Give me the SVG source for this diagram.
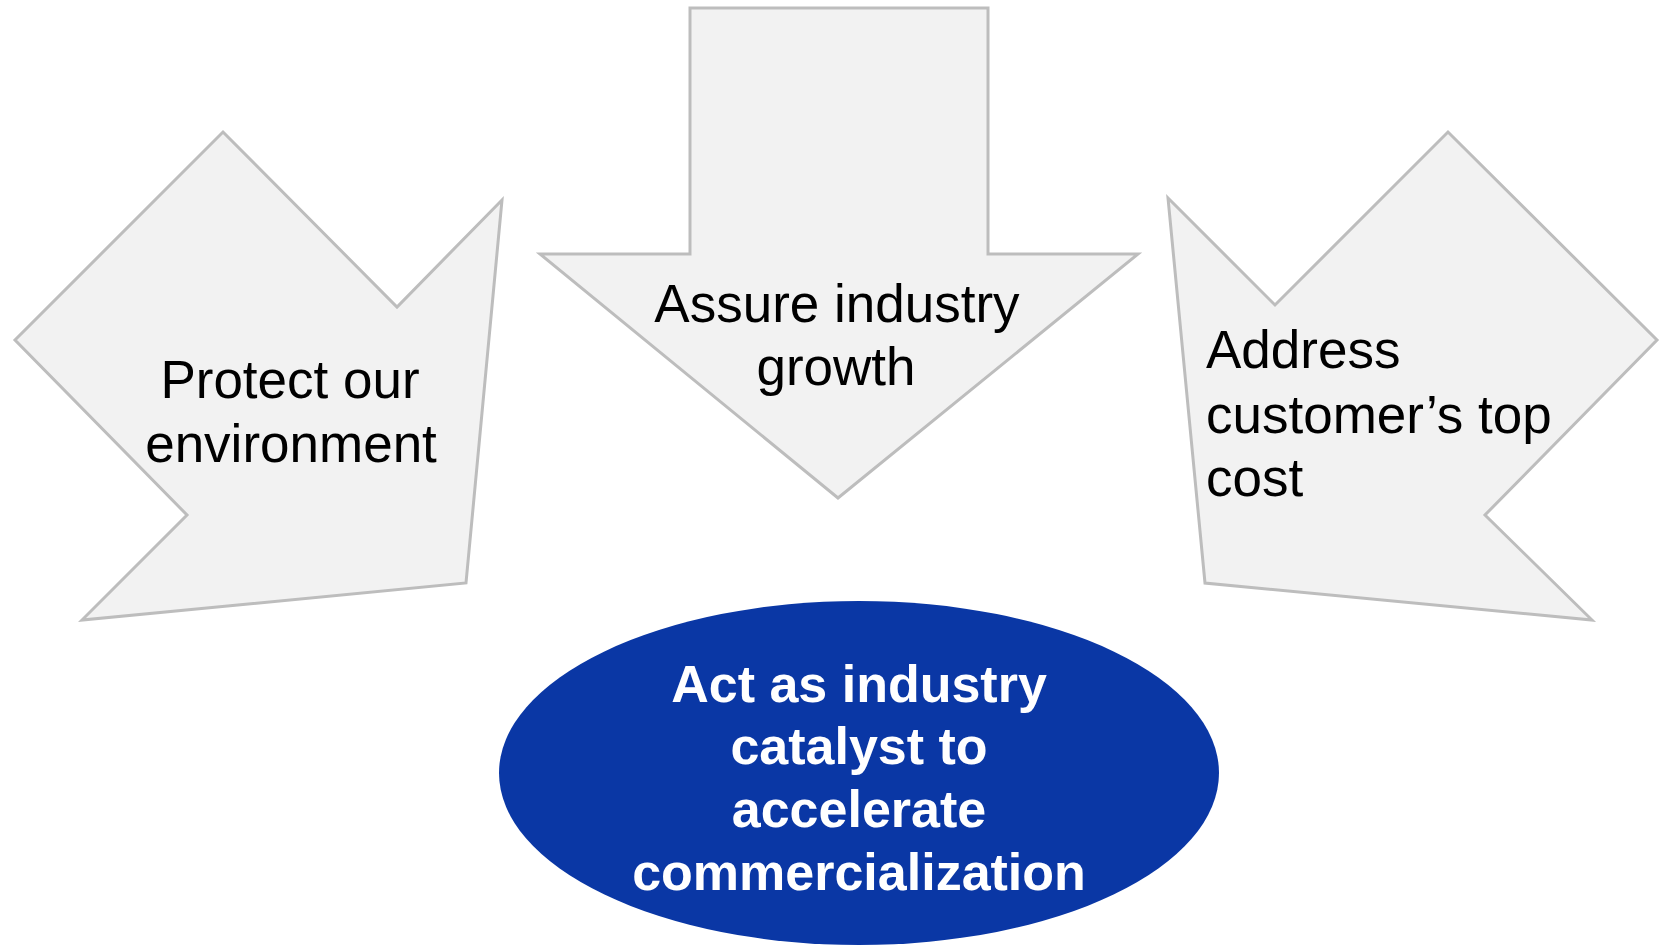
<svg xmlns="http://www.w3.org/2000/svg" width="1660" height="947" viewBox="0 0 1660 947">
<style>
.arrow{fill:#F2F2F2;stroke:#BDBDBD;stroke-width:3;stroke-linejoin:miter}
.t{font-family:"Liberation Sans",Arial,sans-serif;font-size:53px;fill:#000}
.b{font-family:"Liberation Sans",Arial,sans-serif;font-size:52px;font-weight:bold;fill:#FFFFFF;text-anchor:middle}
</style>
<rect width="1660" height="947" fill="#FFFFFF"/>
<g id="connectors"></g>
<g id="node-protect">
<polygon class="arrow" points="223,132 397,307 502,200 466,583 82,620 187,515 15,340"/>
<text class="t" text-anchor="middle" x="290" y="398">Protect our</text>
<text class="t" text-anchor="middle" x="291" y="462">environment</text>
</g>
<g id="node-assure">
<polygon class="arrow" points="690,8 988,8 988,254 1138,254 838,498 540,254 690,254"/>
<text class="t" text-anchor="middle" x="837" y="322">Assure industry</text>
<text class="t" text-anchor="middle" x="836" y="385">growth</text>
</g>
<g id="node-address">
<polygon class="arrow" points="1168,198 1275,305 1448,132 1657,340 1485,515 1592,620 1205,583"/>
<text class="t" x="1206" y="368">Address</text>
<text class="t" x="1206" y="433">customer’s top</text>
<text class="t" x="1206" y="496">cost</text>
</g>
<g id="node-catalyst">
<ellipse cx="859" cy="773" rx="360" ry="172" fill="#0A37A5"/>
<text class="b" x="859" y="702">Act as industry</text>
<text class="b" x="859" y="764">catalyst to</text>
<text class="b" x="859" y="827">accelerate</text>
<text class="b" x="859" y="890">commercialization</text>
</g>
</svg>
